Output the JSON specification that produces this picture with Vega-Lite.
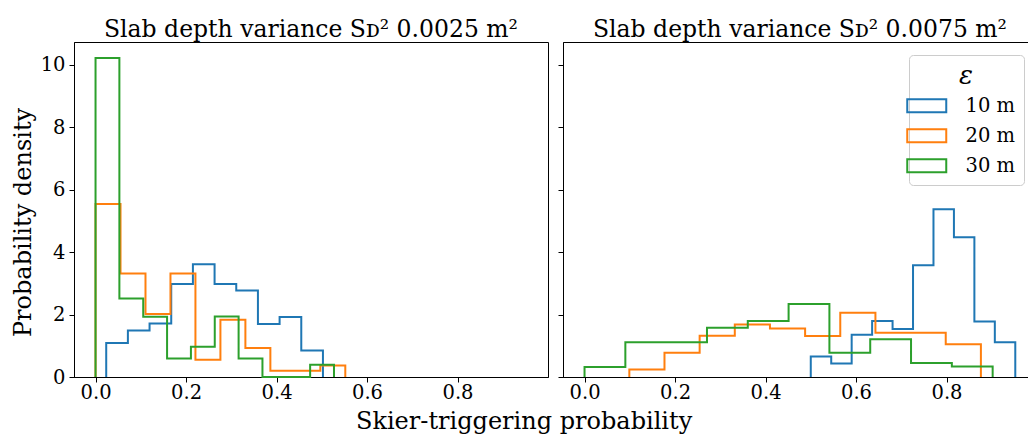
{
  "$schema": "https://vega.github.io/schema/vega-lite/v6.json",
  "padding": {"left": 10, "top": 17, "right": 0, "bottom": 0},
  "background": "white",
  "title": {"text": "Skier-triggering probability", "orient": "bottom", "anchor": "middle", "fontSize": 24, "fontWeight": "normal", "font": "DejaVu Serif", "color": "black", "offset": 8},
  "data": {"values": [
    {"p":"L","e":"10 m","i":0,"x":0.0236,"d":0},{"p":"L","e":"10 m","i":1,"x":0.0236,"d":1.09},{"p":"L","e":"10 m","i":2,"x":0.0715,"d":1.49},{"p":"L","e":"10 m","i":3,"x":0.1194,"d":1.71},{"p":"L","e":"10 m","i":4,"x":0.1673,"d":2.98},{"p":"L","e":"10 m","i":5,"x":0.2152,"d":3.61},{"p":"L","e":"10 m","i":6,"x":0.2631,"d":2.98},{"p":"L","e":"10 m","i":7,"x":0.311,"d":2.77},{"p":"L","e":"10 m","i":8,"x":0.3589,"d":1.7},{"p":"L","e":"10 m","i":9,"x":0.4068,"d":1.92},{"p":"L","e":"10 m","i":10,"x":0.4547,"d":0.85},{"p":"L","e":"10 m","i":11,"x":0.5026,"d":0},
    {"p":"L","e":"20 m","i":0,"x":0,"d":0},{"p":"L","e":"20 m","i":1,"x":0,"d":5.54},{"p":"L","e":"20 m","i":2,"x":0.0552,"d":3.31},{"p":"L","e":"20 m","i":3,"x":0.1104,"d":2.02},{"p":"L","e":"20 m","i":4,"x":0.1656,"d":3.31},{"p":"L","e":"20 m","i":5,"x":0.2208,"d":0.55},{"p":"L","e":"20 m","i":6,"x":0.276,"d":1.83},{"p":"L","e":"20 m","i":7,"x":0.3312,"d":0.93},{"p":"L","e":"20 m","i":8,"x":0.3864,"d":0.2},{"p":"L","e":"20 m","i":9,"x":0.4416,"d":0.2},{"p":"L","e":"20 m","i":10,"x":0.4968,"d":0.37},{"p":"L","e":"20 m","i":11,"x":0.552,"d":0},
    {"p":"L","e":"30 m","i":0,"x":0,"d":0},{"p":"L","e":"30 m","i":1,"x":0,"d":10.21},{"p":"L","e":"30 m","i":2,"x":0.0527,"d":2.51},{"p":"L","e":"30 m","i":3,"x":0.1054,"d":1.93},{"p":"L","e":"30 m","i":4,"x":0.1581,"d":0.59},{"p":"L","e":"30 m","i":5,"x":0.2108,"d":0.97},{"p":"L","e":"30 m","i":6,"x":0.2635,"d":1.94},{"p":"L","e":"30 m","i":7,"x":0.3162,"d":0.59},{"p":"L","e":"30 m","i":8,"x":0.3689,"d":0},{"p":"L","e":"30 m","i":9,"x":0.4216,"d":0},{"p":"L","e":"30 m","i":10,"x":0.4743,"d":0.39},{"p":"L","e":"30 m","i":11,"x":0.527,"d":0},
    {"p":"R","e":"10 m","i":0,"x":0.5,"d":0},{"p":"R","e":"10 m","i":1,"x":0.5,"d":0.66},{"p":"R","e":"10 m","i":2,"x":0.5452,"d":0.43},{"p":"R","e":"10 m","i":3,"x":0.5904,"d":1.35},{"p":"R","e":"10 m","i":4,"x":0.6356,"d":1.79},{"p":"R","e":"10 m","i":5,"x":0.6808,"d":1.54},{"p":"R","e":"10 m","i":6,"x":0.726,"d":3.58},{"p":"R","e":"10 m","i":7,"x":0.7712,"d":5.37},{"p":"R","e":"10 m","i":8,"x":0.8164,"d":4.47},{"p":"R","e":"10 m","i":9,"x":0.8616,"d":1.78},{"p":"R","e":"10 m","i":10,"x":0.9068,"d":1.11},{"p":"R","e":"10 m","i":11,"x":0.952,"d":0},
    {"p":"R","e":"20 m","i":0,"x":0.099,"d":0},{"p":"R","e":"20 m","i":1,"x":0.099,"d":0.24},{"p":"R","e":"20 m","i":2,"x":0.1767,"d":0.78},{"p":"R","e":"20 m","i":3,"x":0.2544,"d":1.32},{"p":"R","e":"20 m","i":4,"x":0.3321,"d":1.68},{"p":"R","e":"20 m","i":5,"x":0.4098,"d":1.55},{"p":"R","e":"20 m","i":6,"x":0.4875,"d":1.31},{"p":"R","e":"20 m","i":7,"x":0.5652,"d":2.06},{"p":"R","e":"20 m","i":8,"x":0.6429,"d":1.415},{"p":"R","e":"20 m","i":9,"x":0.7206,"d":1.415},{"p":"R","e":"20 m","i":10,"x":0.7983,"d":1.05},{"p":"R","e":"20 m","i":11,"x":0.876,"d":0},
    {"p":"R","e":"30 m","i":0,"x":0,"d":0},{"p":"R","e":"30 m","i":1,"x":0,"d":0.32},{"p":"R","e":"30 m","i":2,"x":0.0902,"d":1.11},{"p":"R","e":"30 m","i":3,"x":0.1804,"d":1.11},{"p":"R","e":"30 m","i":4,"x":0.2706,"d":1.575},{"p":"R","e":"30 m","i":5,"x":0.3608,"d":1.79},{"p":"R","e":"30 m","i":6,"x":0.451,"d":2.34},{"p":"R","e":"30 m","i":7,"x":0.5412,"d":0.78},{"p":"R","e":"30 m","i":8,"x":0.6314,"d":1.21},{"p":"R","e":"30 m","i":9,"x":0.7216,"d":0.45},{"p":"R","e":"30 m","i":10,"x":0.8118,"d":0.34},{"p":"R","e":"30 m","i":11,"x":0.902,"d":0}
  ]},
  "spacing": 15,
  "bounds": "flush",
  "resolve": {"scale": {"color": "independent"}, "legend": {"color": "independent"}},
  "hconcat": [
    {
      "width": 474, "height": 335,
      "title": {"text": "Slab depth variance Sᴅ² 0.0025 m²", "fontSize": 23.5, "fontWeight": "normal", "font": "DejaVu Serif", "anchor": "middle", "color": "black", "offset": 1},
      "transform": [{"filter": "datum.p === 'L'"}],
      "mark": {"type": "line", "interpolate": "step-after", "strokeWidth": 2, "strokeJoin": "miter"},
      "encoding": {
        "x": {"field": "x", "type": "quantitative", "scale": {"domain": [-0.0476, 1.0], "nice": false, "zero": false},
              "axis": {"values": [0, 0.2, 0.4, 0.6, 0.8], "format": ".1f", "title": null}},
        "y": {"field": "d", "type": "quantitative", "scale": {"domain": [0, 10.72], "nice": false},
              "axis": {"values": [0, 2, 4, 6, 8, 10], "format": "d", "title": "Probability density", "titleFontSize": 24, "titleFontWeight": "normal", "titlePadding": 5, "titleY": 180}},
        "color": {"field": "e", "type": "nominal", "scale": {"domain": ["10 m", "20 m", "30 m"], "range": ["#1f77b4", "#ff7f0e", "#2ca02c"]}, "legend": null},
        "order": {"field": "i", "type": "quantitative"}
      }
    },
    {
      "width": 474, "height": 335,
      "title": {"text": "Slab depth variance Sᴅ² 0.0075 m²", "fontSize": 23.5, "fontWeight": "normal", "font": "DejaVu Serif", "anchor": "middle", "color": "black", "offset": 1},
      "transform": [{"filter": "datum.p === 'R'"}],
      "mark": {"type": "line", "interpolate": "step-after", "strokeWidth": 2, "strokeJoin": "miter"},
      "encoding": {
        "x": {"field": "x", "type": "quantitative", "scale": {"domain": [-0.0476, 1.0], "nice": false, "zero": false},
              "axis": {"values": [0, 0.2, 0.4, 0.6, 0.8], "format": ".1f", "title": null}},
        "y": {"field": "d", "type": "quantitative", "scale": {"domain": [0, 10.72], "nice": false},
              "axis": {"values": [0, 2, 4, 6, 8, 10], "labels": false, "title": null}},
        "color": {"field": "e", "type": "nominal", "scale": {"domain": ["10 m", "20 m", "30 m"], "range": ["#1f77b4", "#ff7f0e", "#2ca02c"]},
                  "legend": {"title": "ε", "orient": "top-right", "offset": 13, "titleFontSize": 26, "titleFontStyle": "italic", "titleFontWeight": "normal", "titleAnchor": "middle", "titlePadding": 7,
                             "labelFontSize": 19.5, "labelColor": "black", "titleColor": "black", "labelOffset": 29,
                             "symbolType": "M-3,-1H3V1H-3Z", "symbolSize": 169, "symbolStrokeWidth": 2, "symbolFillColor": "transparent", "symbolOpacity": 1,
                             "rowPadding": 8, "padding": 8, "fillColor": "rgba(255,255,255,0.8)", "strokeColor": "#cccccc", "cornerRadius": 4}},
        "order": {"field": "i", "type": "quantitative"}
      }
    }
  ],
  "config": {
    "font": "DejaVu Serif",
    "view": {"stroke": "black", "strokeWidth": 1},
    "axis": {"grid": false, "domainColor": "black", "tickColor": "black", "labelColor": "black", "titleColor": "black", "labelFontSize": 19.5, "tickSize": 5, "labelPadding": 4, "labelFont": "DejaVu Serif", "titleFont": "DejaVu Serif"},
    "axisX": {"labelPadding": 1},
    "legend": {"labelFont": "DejaVu Serif", "titleFont": "DejaVu Serif"}
  }
}
